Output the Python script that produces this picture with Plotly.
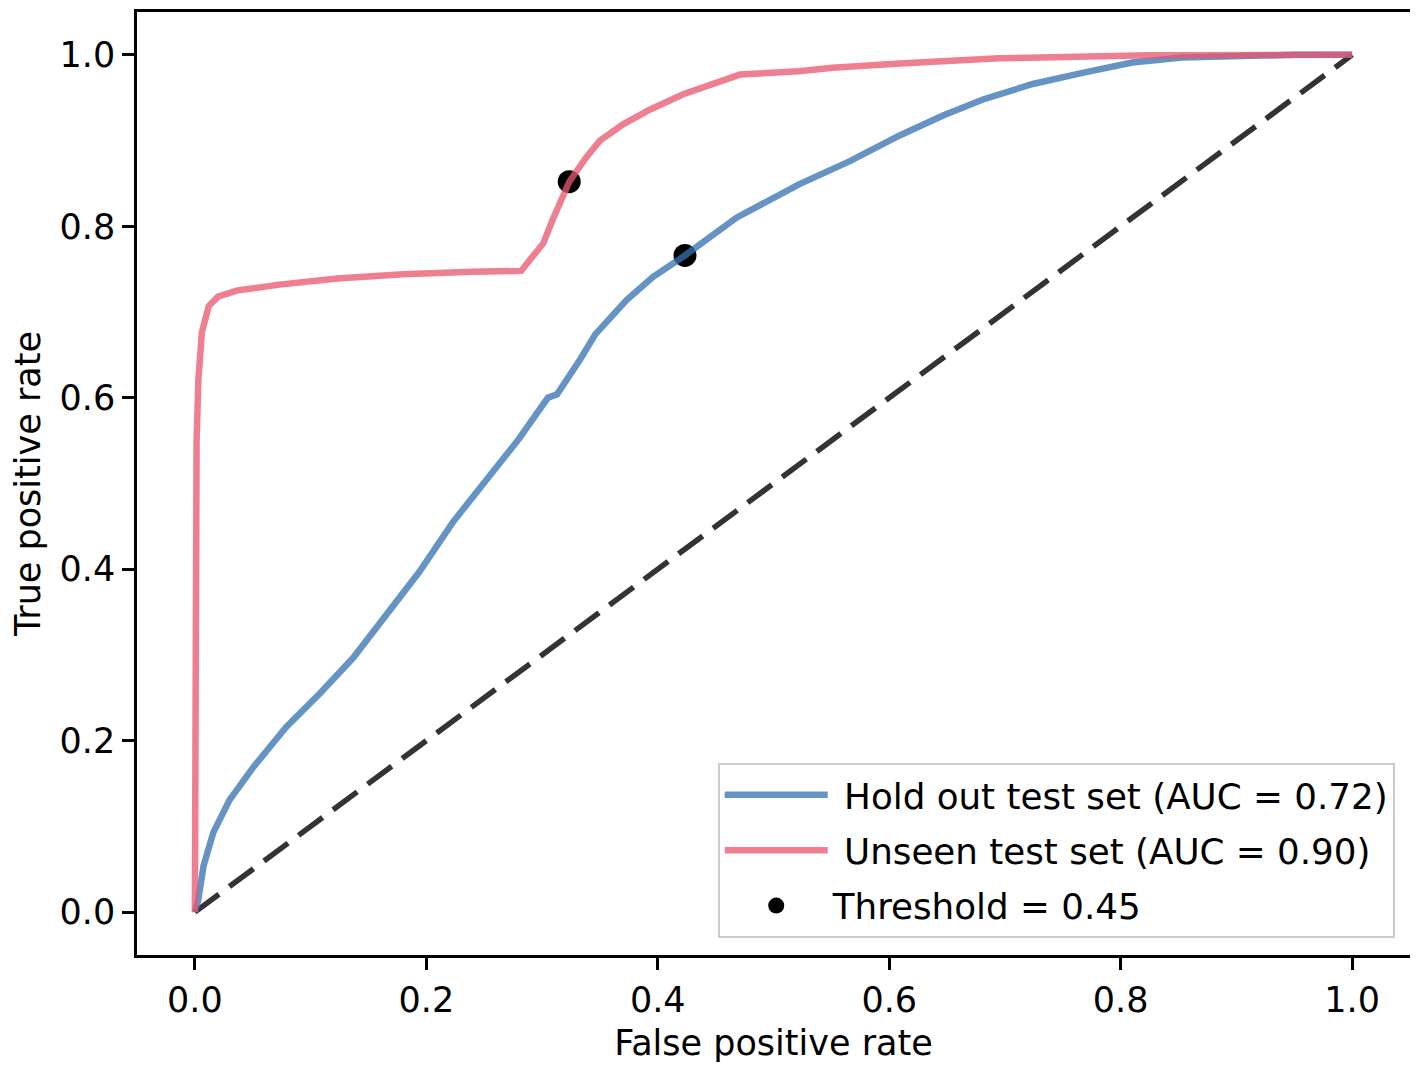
import plotly.graph_objects as go

# ROC curve points
holdout_fpr = [0, 0.003, 0.0075, 0.016, 0.030, 0.051, 0.079, 0.108, 0.137, 0.166, 0.194,
               0.223, 0.237, 0.257, 0.280, 0.305, 0.313, 0.333, 0.346, 0.373, 0.396,
               0.4235, 0.468, 0.522, 0.566, 0.609, 0.646, 0.681, 0.724, 0.767, 0.810,
               0.853, 0.896, 0.95, 1.0]
holdout_tpr = [0, 0.015, 0.054, 0.093, 0.131, 0.170, 0.216, 0.255, 0.297, 0.348, 0.397,
               0.455, 0.479, 0.513, 0.552, 0.600, 0.604, 0.645, 0.674, 0.714, 0.741,
               0.766, 0.810, 0.849, 0.876, 0.906, 0.929, 0.948, 0.966, 0.979, 0.991,
               0.997, 0.999, 1.0, 1.0]

unseen_fpr = [0, 0.0005, 0.0015, 0.003, 0.006, 0.012, 0.02, 0.036, 0.073, 0.123, 0.18,
              0.24, 0.282, 0.292, 0.301, 0.309, 0.318, 0.3235, 0.338, 0.350, 0.370,
              0.393, 0.422, 0.451, 0.471, 0.522, 0.551, 0.609, 0.695, 0.825, 0.9, 1.0]
unseen_tpr = [0, 0.3, 0.55, 0.62, 0.676, 0.707, 0.718, 0.725, 0.732, 0.739, 0.744,
              0.747, 0.748, 0.765, 0.78, 0.807, 0.834, 0.852, 0.880, 0.900, 0.919,
              0.936, 0.954, 0.967, 0.977, 0.981, 0.985, 0.990, 0.996, 0.9995, 1.0, 1.0]

# points at threshold 0.45 (unseen, hold out)
thr_fpr = [0.3235, 0.4235]
thr_tpr = [0.852, 0.766]

chance = [0, 1]

FONT = "DejaVu Sans"
FS = 35

fig = go.Figure()

# chance line
fig.add_trace(go.Scatter(
    x=chance, y=chance, mode="lines", showlegend=False, hoverinfo="skip",
    line=dict(color="rgba(0,0,0,0.8)", width=5.5, dash="30px,13px")
))

# threshold dots go under the lines, but last in the legend
fig.add_trace(go.Scatter(
    x=thr_fpr, y=thr_tpr, mode="markers", name="Threshold = 0.45",
    legendgroup="c", legendrank=3,
    marker=dict(color="black", size=23)
))

fig.add_trace(go.Scatter(
    x=holdout_fpr, y=holdout_tpr, mode="lines",
    name="\u00a0Hold out test set (AUC = 0.72)",
    legendgroup="a", legendrank=1,
    line=dict(color="rgba(52,113,176,0.76)", width=6.5)
))

fig.add_trace(go.Scatter(
    x=unseen_fpr, y=unseen_tpr, mode="lines",
    name="\u00a0Unseen test set (AUC = 0.90)",
    legendgroup="b", legendrank=2,
    line=dict(color="rgba(233,87,110,0.76)", width=6.5)
))

axis_style = dict(
    range=[-0.05, 1.05],
    tickvals=[0, 0.2, 0.4, 0.6, 0.8, 1.0],
    tickformat=".1f",
    showgrid=False,
    zeroline=False,
    showline=True,
    mirror=True,
    linecolor="black",
    linewidth=2.5,
    ticks="outside",
    ticklen=12,
    tickwidth=2.5,
    tickcolor="black",
    tickfont=dict(family=FONT, size=FS, color="black"),
)

fig.update_layout(
    width=1418,
    height=1070,
    margin=dict(l=129, r=16, t=1, b=123),
    plot_bgcolor="white",
    paper_bgcolor="white",
    font=dict(family=FONT, size=FS, color="black"),
    xaxis=dict(axis_style, title=dict(text="False positive rate", standoff=12,
                                      font=dict(family=FONT, size=FS, color="black"))),
    yaxis=dict(axis_style, title=dict(text="True positive rate", standoff=16,
                                      font=dict(family=FONT, size=FS, color="black"))),
    legend=dict(
        x=0.988, y=0.018, xanchor="right", yanchor="bottom",
        bgcolor="rgba(255,255,255,0.8)",
        bordercolor="#cccccc", borderwidth=2,
        font=dict(family=FONT, size=35.7, color="black"),
        itemwidth=103,
        traceorder="grouped",
        tracegroupgap=6,
    ),
)

fig.write_html("out.html")
